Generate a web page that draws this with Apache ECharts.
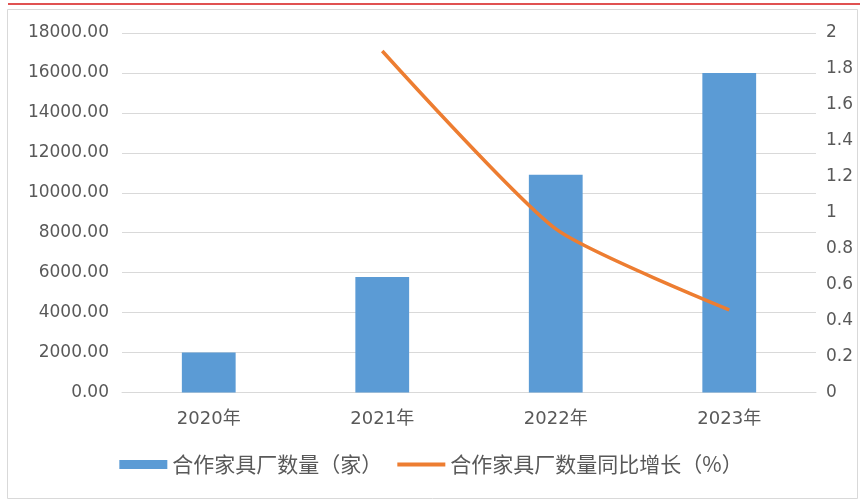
<!DOCTYPE html>
<html><head><meta charset="utf-8">
<script src="https://cdn.jsdelivr.net/npm/echarts@6/dist/echarts.min.js"></script>
<style>html,body{margin:0;padding:0;background:#fff}#c{width:862px;height:501px}</style>
</head><body><div id="c"></div>
<script>
const categories = ['2020年', '2021年', '2022年', '2023年'];
const barName = '合作家具厂数量（家）';
const lineName = '合作家具厂数量同比增长（%）';
const barValues = [2000, 5780, 10900, 16000];
const lineValues = [null, 1.9, 0.91, 0.46];

const chart = echarts.init(document.getElementById('c'), null, {renderer: 'canvas'});
const txt = '#595959';
const ff = '"Noto Sans CJK SC", "Noto Sans", sans-serif';
const nf = '"DejaVu Sans", "Noto Sans CJK SC", sans-serif';
chart.setOption({
  animation: false,
  backgroundColor: '#fff',
  textStyle: {fontFamily: ff},
  graphic: [
    {type: 'rect', shape: {x: 7.5, y: 9.5, width: 850, height: 489}, style: {fill: 'none', stroke: '#d9d9d9', lineWidth: 1}, silent: true},
    {type: 'line', shape: {x1: 8, y1: 4, x2: 860, y2: 4}, style: {stroke: '#e05252', lineWidth: 2}, silent: true}
  ],
  grid: {left: 122, right: 46, top: 33, bottom: 108.5},
  legend: {
    bottom: 21, left: 'center',
    itemWidth: 48, itemHeight: 9, itemGap: 15,
    textStyle: {fontSize: 21, color: txt, fontFamily: ff},
    data: [
      {name: barName, icon: 'rect'},
      {name: lineName, icon: 'path://M0,0H48V4H0Z'}
    ]
  },
  xAxis: {
    type: 'category', data: categories,
    axisLine: {lineStyle: {color: '#d9d9d9', width: 1}},
    axisTick: {show: false},
    axisLabel: {fontSize: 18, color: txt, margin: 18, fontFamily: nf}
  },
  yAxis: [
    {type: 'value', min: 0, max: 18000, interval: 2000,
     axisLine: {show: false}, axisTick: {show: false},
     splitLine: {lineStyle: {color: '#d9d9d9'}},
     axisLabel: {fontSize: 17, color: txt, margin: 13, formatter: v => v.toFixed(2), fontFamily: nf}},
    {type: 'value', min: 0, max: 2, interval: 0.2,
     axisLine: {show: false}, axisTick: {show: false},
     splitLine: {show: false},
     axisLabel: {fontSize: 17, color: txt, margin: 10, formatter: v => String(+v.toFixed(1)), fontFamily: nf}}
  ],
  series: [
    {name: barName, type: 'bar', data: barValues, barWidth: '31%',
     itemStyle: {color: '#5b9bd5'}},
    {name: lineName, type: 'line', yAxisIndex: 1, data: lineValues,
     smooth: 0.2, showSymbol: false, symbol: 'none',
     lineStyle: {color: '#ed7d31', width: 3.5}, itemStyle: {color: '#ed7d31'}}
  ]
});
</script></body></html>
